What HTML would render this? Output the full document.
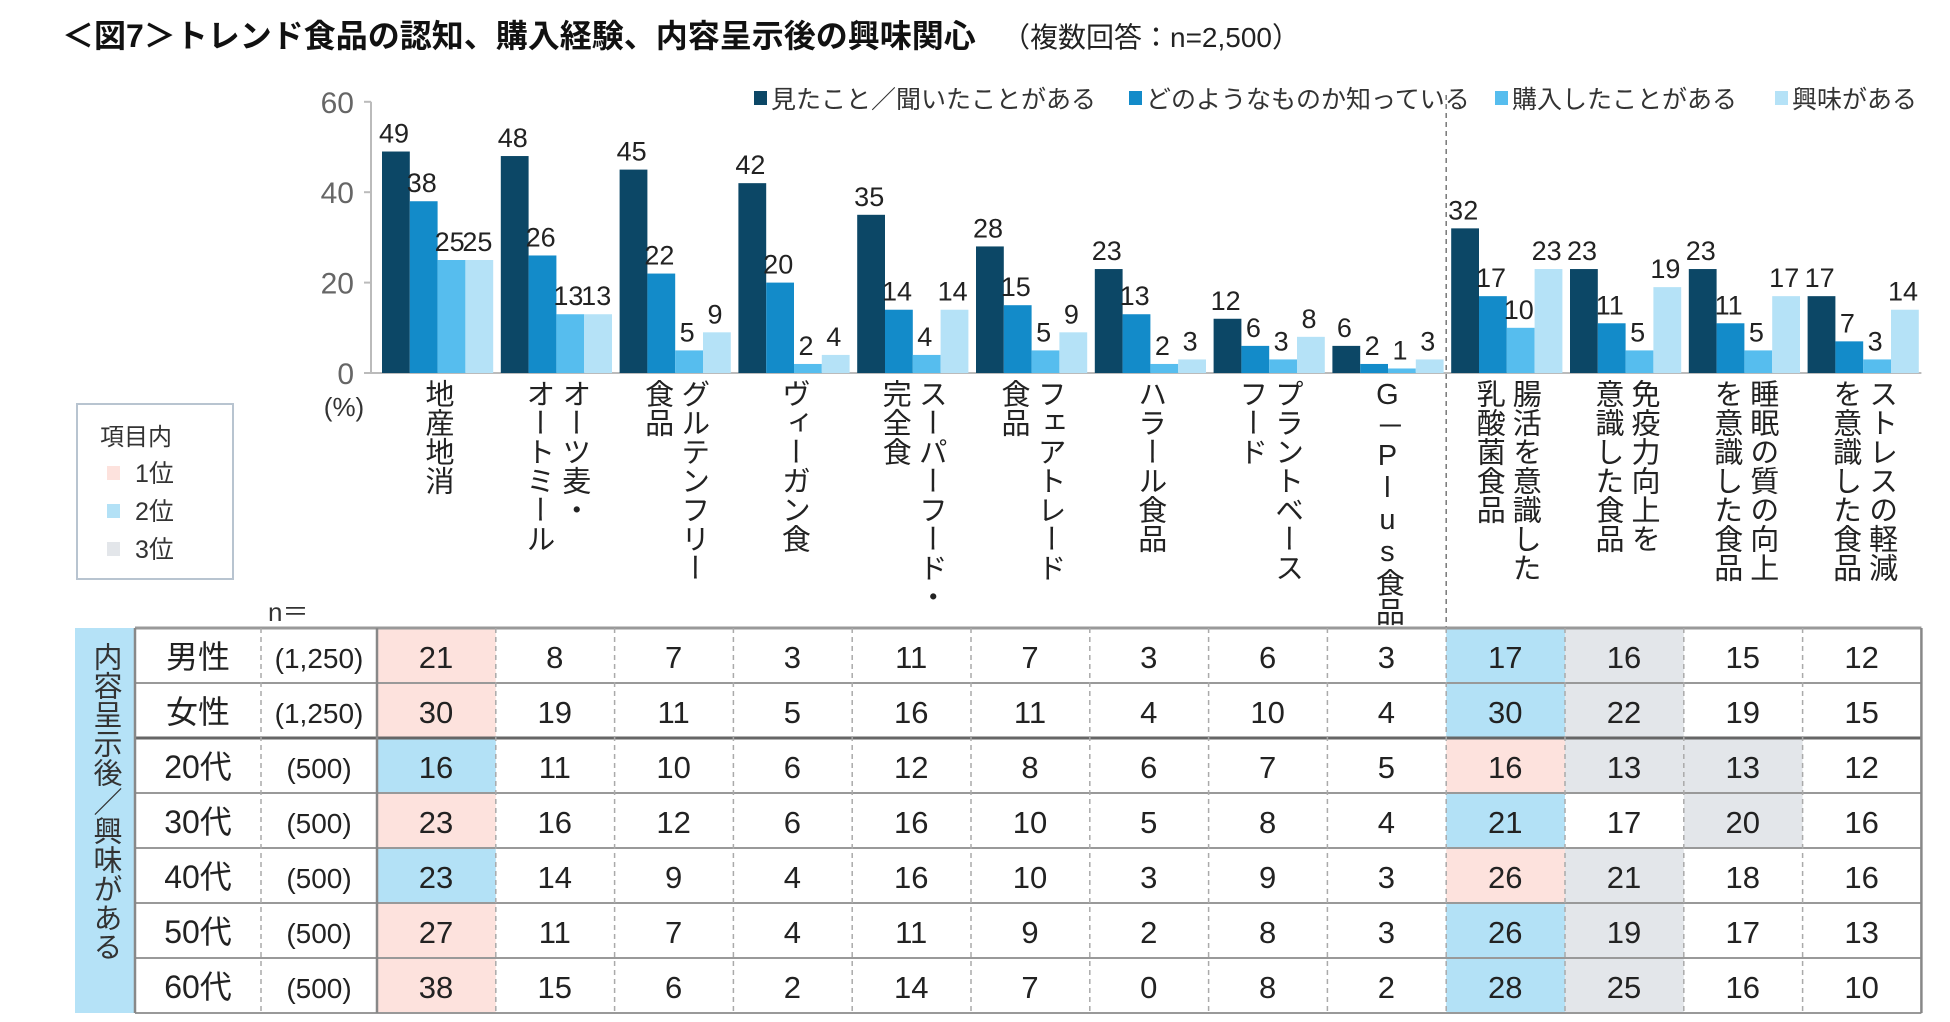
<!DOCTYPE html>
<html><head><meta charset="utf-8">
<style>
html,body{margin:0;padding:0;background:#fff;}
svg{display:block;font-family:"Liberation Sans","Noto Sans CJK JP",sans-serif;}
.vt{writing-mode:vertical-rl;text-orientation:upright;}
</style></head>
<body>
<svg id="chart" width="1950" height="1022" viewBox="0 0 1950 1022" xmlns="http://www.w3.org/2000/svg">
<g id="g"></g>
</svg>
<script>
const categories=["地産地消","オーツ麦・オートミール","グルテンフリー食品","ヴィーガン食","スーパーフード・完全食","フェアトレード食品","ハラール食品","プラントベースフード","G－Plus食品","腸活を意識した乳酸菌食品","免疫力向上を意識した食品","睡眠の質の向上を意識した食品","ストレスの軽減を意識した食品"];
const labelCols=[["地産地消"],["オーツ麦・","オートミール"],["グルテンフリー","食品"],["ヴィーガン食"],["スーパーフード・","完全食"],["フェアトレード","食品"],["ハラール食品"],["プラントベース","フード"],["G－Plus食品"],["腸活を意識した","乳酸菌食品"],["免疫力向上を","意識した食品"],["睡眠の質の向上","を意識した食品"],["ストレスの軽減","を意識した食品"]];
const seriesNames=["見たこと／聞いたことがある","どのようなものか知っている","購入したことがある","興味がある"];
const seen=[49,48,45,42,35,28,23,12,6,32,23,23,17];
const know=[38,26,22,20,14,15,13,6,2,17,11,11,7];
const bought=[25,13,5,2,4,5,2,3,1,10,5,5,3];
const interest=[25,13,9,4,14,9,3,8,3,23,19,17,14];
const yTicks=[0,20,40,60];
const rowLabels=["男性","女性","20代","30代","40代","50代","60代"];
const rowN=["(1,250)","(1,250)","(500)","(500)","(500)","(500)","(500)"];
const tableVals=[
[21,8,7,3,11,7,3,6,3,17,16,15,12],
[30,19,11,5,16,11,4,10,4,30,22,19,15],
[16,11,10,6,12,8,6,7,5,16,13,13,12],
[23,16,12,6,16,10,5,8,4,21,17,20,16],
[23,14,9,4,16,10,3,9,3,26,21,18,16],
[27,11,7,4,11,9,2,8,3,26,19,17,13],
[38,15,6,2,14,7,0,8,2,28,25,16,10]];
const tableRanks=[
[1,0,0,0,0,0,0,0,0,2,3,0,0],
[1,0,0,0,0,0,0,0,0,2,3,0,0],
[2,0,0,0,0,0,0,0,0,1,3,3,0],
[1,0,0,0,0,0,0,0,0,2,0,3,0],
[2,0,0,0,0,0,0,0,0,1,3,0,0],
[1,0,0,0,0,0,0,0,0,2,3,0,0],
[1,0,0,0,0,0,0,0,0,2,3,0,0]];
const series=[seen,know,bought,interest];
const colors=["#0c4766","#138bc9","#56bdee","#b5e2f7"];
const rankColors=[null,"#fde2dd","#b3e1f6","#e3e6ea"];

const NS="http://www.w3.org/2000/svg";
const G=document.getElementById("g");
function el(tag,attrs,parent){const e=document.createElementNS(NS,tag);for(const k in attrs)e.setAttribute(k,attrs[k]);(parent||G).appendChild(e);return e;}
function txt(s,x,y,size,attrs){const t=el("text",Object.assign({x:x,y:y,"font-size":size,fill:"#222"},attrs||{}));t.textContent=s;return t;}

const y0=373, pxPerUnit=4.52;
function yScale(v){return y0-v*pxPerUnit;}
const colStart=377, colW=118.8, barW=27.8;
function groupX(i){return colStart+colW*i;}
function barX(i,j){return groupX(i)+5+barW*j;}

let t=txt("＜図7＞トレンド食品の認知、購入経験、内容呈示後の興味関心",62,47,32,{"font-weight":"bold",fill:"#111"});


t=txt("（複数回答：n=2,500）",1002,47,28,{fill:"#222"});



let ax=el("line",{x1:371,x2:371,y1:yScale(60),y2:y0,stroke:"#bbb","stroke-width":2});


yTicks.forEach(v=>{
  const tl=el("line",{x1:364,x2:371,y1:yScale(v),y2:yScale(v),stroke:"#bbb","stroke-width":2});
  
  
  const tk=txt(String(v),354,yScale(v)+11,30,{"text-anchor":"end",fill:"#666"});
  
  
});
let bl=el("line",{x1:371,x2:colStart+colW*13,y1:y0,y2:y0,stroke:"#bbb","stroke-width":2});


t=txt("(%)",344,416,26,{"text-anchor":"middle",fill:"#333"});



let dv=el("line",{x1:groupX(9),x2:groupX(9),y1:95,y2:628,stroke:"#777","stroke-width":1.5,"stroke-dasharray":"5,4"});



categories.forEach((c,i)=>{
  series.forEach((arr,j)=>{
    const v=arr[i];
    const r=el("rect",{x:barX(i,j),y:yScale(v),width:barW,height:y0-yScale(v),fill:colors[j]});
    
    
    const lb=txt(String(v),barX(i,j)+12,yScale(v)-9,27,{"text-anchor":"middle",fill:"#222"});
    
    
  });
  const cols=labelCols[i];
  const cx=groupX(i)+60;
  cols.forEach((s,k)=>{
    const off=cols.length===1?0:(k===0?18:-18);
    const ct=el("text",{x:cx+off,y:379,"font-size":29,fill:"#222",class:"vt"});
    ct.textContent=s;
    
    
  });
});

const legX=[754,1129,1495,1775];
seriesNames.forEach((s,j)=>{
  const sq=el("rect",{x:legX[j],y:91,width:13,height:14,fill:colors[j]});
  
  
  const lt=txt(s,legX[j]+17,108,25,{fill:"#333"});
  
  
});

let box=el("rect",{x:77,y:404,width:156,height:175,fill:"#fff",stroke:"#b8c4d0","stroke-width":2});


t=txt("項目内",100,445,24,{fill:"#333"});


["1位","2位","3位"].forEach((s,k)=>{
  const sq=el("rect",{x:107,y:466+k*38,width:13,height:14,fill:rankColors[k+1]});
  
  
  const lt=txt(s,135,482+k*38,25,{fill:"#333"});
  
  
});

const tTop=628, rowH=55, tRight=colStart+colW*13;
t=txt("n＝",268,621,26,{fill:"#333"});


let side=el("rect",{x:75,y:tTop,width:60,height:rowH*7,fill:"#b5e2f7"});


let st=el("text",{x:105,y:tTop+14,"font-size":29,fill:"#333",class:"vt"});
st.textContent="内容呈示後／興味がある";


tableVals.forEach((row,r)=>{
  const yTopR=tTop+r*rowH;
  row.forEach((v,c)=>{
    if(tableRanks[r][c]){
      const hc=el("rect",{x:groupX(c),y:yTopR,width:colW,height:rowH,fill:rankColors[tableRanks[r][c]]});
      
      
    }
    const ct=txt(String(v),groupX(c)+59,yTopR+40,31,{"text-anchor":"middle",fill:"#222"});
    
    
  });
  const rl=txt(rowLabels[r],198,yTopR+40,32,{"text-anchor":"middle",fill:"#222"});
  
  
  const nl=txt(rowN[r],319,yTopR+40,28,{"text-anchor":"middle",fill:"#222"});
  
  
});
for(let r=0;r<=7;r++){
  const y=tTop+r*rowH;
  const w=(r===0||r===2)?3:2;
  const hl=el("line",{x1:135,x2:tRight,y1:y,y2:y,stroke:r===2?"#666":"#999","stroke-width":w});
  
  
}
const vx=[135,261,377];
for(let c=1;c<=13;c++)vx.push(colStart+colW*c);
vx.forEach((x,idx)=>{
  const solid=(idx===0||idx===2||idx===vx.length-1);
  const vl=el("line",{x1:x,x2:x,y1:tTop,y2:tTop+rowH*7,stroke:solid?"#888":"#aaa","stroke-width":solid?2.5:1.5,"stroke-dasharray":solid?"none":"5,4"});
  
  
});
</script>
</body></html>
